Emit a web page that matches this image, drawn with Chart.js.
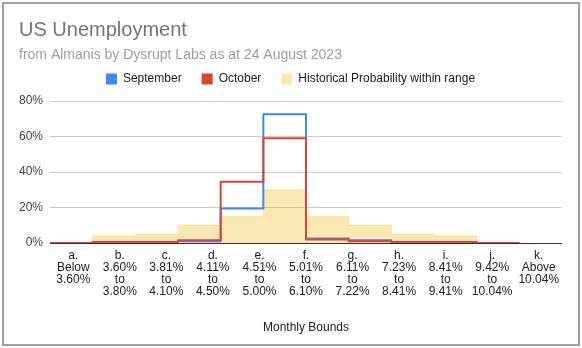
<!DOCTYPE html>
<html>
<head>
<meta charset="utf-8">
<script src="https://cdn.jsdelivr.net/npm/chart.js@4.4.1/dist/chart.umd.min.js"></script>
<style>
  html, body { margin: 0; padding: 0; background: #fff; }
  #wrap { position: relative; width: 582px; height: 348px; }
  #c { position: absolute; left: 0; top: 0; }
  #frame { position: absolute; left: 2px; top: 2px; width: 578px; height: 344px; box-sizing: border-box; border: 2px solid #a0a0a0; pointer-events: none; }
</style>
</head>
<body>
<div id="wrap">
  <canvas id="c" width="582" height="348"></canvas>
  <div id="frame"></div>
</div>
<script>
// ---- data ----
const categories = ['a.', 'b.', 'c.', 'd.', 'e.', 'f.', 'g.', 'h.', 'i.', 'j.', 'k.'];
const boundLabels = [
  ['Below', '3.60%'],
  ['3.60%', 'to', '3.80%'],
  ['3.81%', 'to', '4.10%'],
  ['4.11%', 'to', '4.50%'],
  ['4.51%', 'to', '5.00%'],
  ['5.01%', 'to', '6.10%'],
  ['6.11%', 'to', '7.22%'],
  ['7.23%', 'to', '8.41%'],
  ['8.41%', 'to', '9.41%'],
  ['9.42%', 'to', '10.04%'],
  ['Above', '10.04%']
];
const september = [0, 0.5, 0.5, 1, 19.5, 72.5, 2.5, 1.5, 0.5, 0.5, 0];
const october = [0, 0.5, 0.5, 1.5, 34.5, 59, 2, 1, 0.5, 0.5, 0];
const historical = [0, 4, 5, 10, 15, 30, 15, 10, 5, 4, 0];
const yTicks = [0, 20, 40, 60, 80];

// ---- build step points (each value spans its whole category slot) ----
function stepPoints(values) {
  const pts = values.map((v, i) => ({ x: i, y: v }));
  pts.push({ x: values.length, y: values[values.length - 1] });
  return pts;
}
const tickLabels = categories.map((c, i) => [c].concat(boundLabels[i]));

const FONT = "'Liberation Sans', Arial, sans-serif";
Chart.defaults.font.family = FONT;

new Chart(document.getElementById('c'), {
  type: 'line',
  data: {
    datasets: [
      {
        label: 'September',
        data: stepPoints(september),
        borderColor: '#4285f4',
        backgroundColor: '#4285f4',
        legendColor: '#4285f4',
        borderWidth: 2,
        stepped: 'before',
        fill: false,
        pointRadius: 0,
        borderJoinStyle: 'round',
        order: 1
      },
      {
        label: 'October',
        data: stepPoints(october),
        borderColor: '#db4437',
        backgroundColor: '#db4437',
        legendColor: '#db4437',
        borderWidth: 2,
        stepped: 'before',
        fill: false,
        pointRadius: 0,
        borderJoinStyle: 'round',
        order: 0
      },
      {
        label: 'Historical Probability within range',
        data: stepPoints(historical),
        borderColor: 'rgba(244,180,0,0.2)',
        backgroundColor: 'rgba(244,180,0,0.3)',
        legendColor: '#fce8b2',
        borderWidth: 1.5,
        stepped: 'before',
        fill: 'origin',
        pointRadius: 0,
        order: 2
      }
    ]
  },
  options: {
    responsive: false,
    animation: false,
    devicePixelRatio: 1,
    layout: { padding: { left: 19, right: 20, top: 0, bottom: 0 } },
    plugins: {
      tooltip: { enabled: false },
      title: {
        display: true,
        text: 'US Unemployment',
        align: 'start',
        color: '#757575',
        font: { size: 20, weight: 'normal', family: FONT, lineHeight: 1.2 },
        padding: { top: 18, bottom: 0 }
      },
      subtitle: {
        display: true,
        text: 'from Almanis by Dysrupt Labs as at 24 August 2023',
        align: 'start',
        color: '#9e9e9e',
        font: { size: 14, weight: 'normal', family: FONT, lineHeight: 1.2 },
        padding: { top: 4.5, bottom: -10.3 }
      },
      legend: {
        display: true,
        position: 'top',
        align: 'center',
        labels: {
          color: '#222',
          font: { size: 12, family: FONT },
          boxWidth: 11,
          boxHeight: 11,
          padding: 20,
          generateLabels(chart) {
            const items = Chart.defaults.plugins.legend.labels.generateLabels(chart);
            items.forEach(it => {
              const ds = chart.data.datasets[it.datasetIndex];
              it.fillStyle = ds.legendColor;
              it.strokeStyle = ds.legendColor;
              it.lineWidth = 0;
            });
            return items.sort((a, b) => a.datasetIndex - b.datasetIndex);
          }
        }
      }
    },
    scales: {
      spacer: {
        type: 'linear',
        axis: 'x',
        position: 'top',
        display: true,
        ticks: { display: false },
        grid: { display: false, drawTicks: false },
        border: { display: false },
        afterFit(s) { s.height = 6; }
      },
      x: {
        type: 'linear',
        min: 0,
        max: categories.length,
        afterBuildTicks(scale) {
          scale.ticks = categories.map((c, i) => ({ value: i + 0.5 }));
        },
        afterFit(s) { s.paddingLeft = 0; s.paddingRight = 0; },
        ticks: {
          autoSkip: false,
          maxRotation: 0,
          minRotation: 0,
          padding: 7,
          color: '#222',
          font: { size: 12, family: FONT, lineHeight: 1.0 },
          callback(value, index) { return tickLabels[index]; }
        },
        grid: { display: false, drawTicks: false },
        border: { display: false },
        title: {
          display: true,
          text: 'Monthly Bounds',
          color: '#222',
          font: { size: 12, family: FONT, lineHeight: 1.2 },
          padding: { top: 15.6, bottom: 13 }
        }
      },
      y: {
        min: 0,
        max: 80,
        afterBuildTicks(scale) {
          scale.ticks = yTicks.map(v => ({ value: v }));
        },
        afterFit(s) { s.width = s.width - s.options.ticks.padding; },
        ticks: {
          padding: 7,
          color: '#444',
          font: { size: 12, family: FONT },
          callback(v) { return v + '%'; }
        },
        grid: {
          drawTicks: false,
          color(ctx) { return ctx.tick && ctx.tick.value === 0 ? '#333' : '#cccccc'; },
          lineWidth: 1
        },
        border: { display: false }
      }
    }
  }
});
</script>
</body>
</html>
